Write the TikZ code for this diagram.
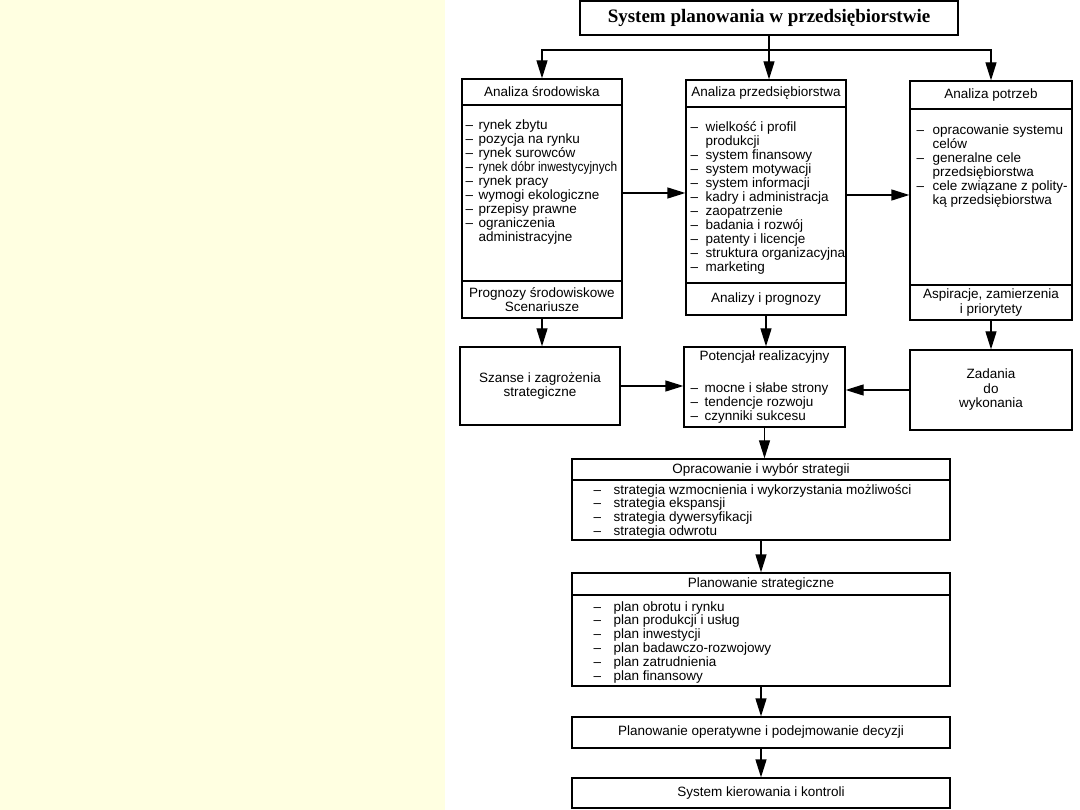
\documentclass[tikz,border=0pt]{standalone}
\usepackage{graphicx}
\usepackage{fontspec}
\setmainfont{Liberation Sans}
\newfontfamily\titlefont{Liberation Serif}
\usetikzlibrary{arrows.meta}
\definecolor{paleyellow}{RGB}{255,255,225}
\newcommand{\itm}[2][13pt]{\makebox[#1][l]{–}#2}
\newcommand{\cnt}[2][13pt]{\hspace*{#1}#2}

\begin{document}
\begin{tikzpicture}[x=1pt,y=-1pt,
  >={Triangle[width=11pt,length=18pt]},
  line width=1.3pt,
  cell/.style={draw,line width=1.3pt,inner sep=0pt,align=center,
    font=\fontsize{13.5}{14.5}\selectfont},
  items/.style={inner sep=0pt,anchor=north west,align=left,
    font=\fontsize{13.5}{14}\selectfont},
  colw/.style={minimum width=160pt},
  widew/.style={minimum width=378pt}]
\useasboundingbox (0,0) rectangle (1080,810);
\fill[paleyellow] (0,0) rectangle (445,810);

\node[draw,line width=2.8pt,minimum width=378pt,minimum height=34pt,inner sep=0pt,
  font=\titlefont\bfseries\fontsize{19}{22}\selectfont] (title) at (769,18)
  {System planowania w przedsiębiorstwie};
\coordinate (split) at (769,50);

\node[cell,colw,minimum height=26pt] (lhead) at (542,92) {Analiza środowiska};
\node[cell,colw,minimum height=176pt] (lbody) at (542,193) {};
\node[cell,colw,minimum height=37pt] (lfoot) at (542,299.5) {Prognozy środowiskowe\\Scenariusze};
\node[items] (litems) at (465,118.7) {\itm{rynek zbytu}\\ \itm{pozycja na rynku}\\
  \itm{rynek surowców}\\ \itm{\scalebox{0.88}[1]{rynek dóbr inwestycyjnych}}\\
  \itm{rynek pracy}\\ \itm{wymogi ekologiczne}\\ \itm{przepisy prawne}\\
  \itm{ograniczenia}\\ \cnt{administracyjne}};

\node[cell,colw,minimum height=27pt] (mhead) at (766,93.5) {Analiza przedsiębiorstwa};
\node[cell,colw,minimum height=176pt] (mbody) at (766,195) {};
\node[cell,colw,minimum height=32pt] (mfoot) at (766,299) {Analizy i prognozy};
\node[items] (mitems) at (690,120.7) {\itm[15pt]{wielkość i profil}\\ \cnt[15pt]{produkcji}\\
  \itm[15pt]{system finansowy}\\ \itm[15pt]{system motywacji}\\ \itm[15pt]{system informacji}\\
  \itm[15pt]{kadry i administracja}\\ \itm[15pt]{zaopatrzenie}\\ \itm[15pt]{badania i rozwój}\\
  \itm[15pt]{patenty i licencje}\\ \itm[15pt]{struktura organizacyjna}\\ \itm[15pt]{marketing}};

\node[cell,minimum width=162pt,minimum height=28pt] (rhead) at (991,95) {Analiza potrzeb};
\node[cell,minimum width=162pt,minimum height=176pt] (rbody) at (991,197) {};
\node[cell,minimum width=162pt,minimum height=35pt] (rfoot) at (991,302.5) {Aspiracje, zamierzenia\\i priorytety};
\node[items] (ritems) at (916,123.7) {\itm[16pt]{opracowanie systemu}\\ \cnt[16pt]{celów}\\
  \itm[16pt]{generalne cele}\\ \cnt[16pt]{przedsiębiorstwa}\\
  \itm[16pt]{cele związane z polity-}\\ \cnt[16pt]{ką przedsiębiorstwa}};

\node[cell,colw,minimum height=78pt] (szanse) at (540,386) {Szanse i zagrożenia\\strategiczne};
\node[cell,minimum width=161pt,minimum height=80pt] (pot) at (764.5,387) {};
\node[inner sep=0pt,font=\fontsize{13.5}{14}\selectfont] (pottitle) at (764.5,357) {Potencjał realizacyjny};
\node[items] (potitems) at (690,381.7) {\itm[14pt]{mocne i słabe strony}\\
  \itm[14pt]{tendencje rozwoju}\\ \itm[14pt]{czynniki sukcesu}};
\node[cell,minimum width=162pt,minimum height=80pt] (zadania) at (991,390) {Zadania\\do\\wykonania};

\node[cell,widew,minimum height=21pt] (ophead) at (761,469.5) {Opracowanie i wybór strategii};
\node[cell,widew,minimum height=60pt] (opbody) at (761,510) {};
\node[items,font=\fontsize{13.5}{13.6}\selectfont] (opitems) at (593,483.7)
  {\itm[20pt]{strategia wzmocnienia i wykorzystania możliwości}\\ \itm[20pt]{strategia ekspansji}\\
  \itm[20pt]{strategia dywersyfikacji}\\ \itm[20pt]{strategia odwrotu}};

\node[cell,widew,minimum height=22pt] (pshead) at (761,584) {Planowanie strategiczne};
\node[cell,widew,minimum height=91pt] (psbody) at (761,640.5) {};
\node[items,font=\fontsize{13.5}{13.8}\selectfont] (psitems) at (593,600.7)
  {\itm[20pt]{plan obrotu i rynku}\\ \itm[20pt]{plan produkcji i usług}\\
  \itm[20pt]{plan inwestycji}\\ \itm[20pt]{plan badawczo-rozwojowy}\\
  \itm[20pt]{plan zatrudnienia}\\ \itm[20pt]{plan finansowy}};

\node[cell,widew,minimum height=31pt] (plop) at (761,732.5) {Planowanie operatywne i podejmowanie decyzji};
\node[cell,widew,minimum height=30pt] (sysk) at (761,793) {System kierowania i kontroli};

\draw (title.south) -- (split);
\draw[->] (split) -| (lhead.north);
\draw[->] (split) -| (rhead.north);
\draw[->] (split) -- (split |- mhead.north);
\draw[->] (lbody.east) -- (lbody.east -| mbody.west);
\draw[->] (mbody.east) -- (mbody.east -| rbody.west);
\draw[->] (lfoot.south) -- (lfoot.south |- szanse.north);
\draw[->] (mfoot.south) -- (mfoot.south |- pot.north);
\draw[->] (rfoot.south) -- (rfoot.south |- zadania.north);
\draw[->] (szanse.east) -- (szanse.east -| pot.west);
\draw[->] (zadania.west) -- (zadania.west -| pot.east);
\draw[->] (pot.south) -- (pot.south |- ophead.north);
\draw[->] (opbody.south) -- (pshead.north);
\draw[->] (psbody.south) -- (plop.north);
\draw[->] (plop.south) -- (sysk.north);
\end{tikzpicture}
\end{document}
